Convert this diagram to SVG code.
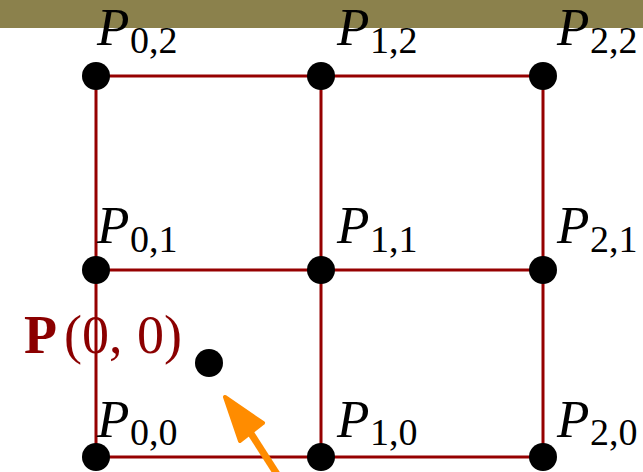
<svg xmlns="http://www.w3.org/2000/svg" width="643" height="472" viewBox="0 0 643 472">
<defs>
<style>
.grid{stroke:#960000;stroke-width:3;fill:none}
.dot{fill:#000}
.lbl{font-family:"Liberation Serif",serif;fill:#000}
.m{font-style:italic;font-size:53px}
.s{font-size:38px}
.red{font-family:"Liberation Serif",serif;fill:#8b0000;font-size:54px}
</style>
</defs>
<rect x="0" y="0" width="643" height="28" fill="#8b814c"/>
<g id="connectors">
<path class="grid" d="M96 76H543M96 270H543M96 457H543M96 76V457M321 76V457M543 76V457"/>
<path d="M282 482L250 432" stroke="#ff8c00" stroke-width="7" fill="none"/>
<polygon points="225,397 263,423 240,441" fill="#ff8c00" stroke="#ff8c00" stroke-width="4" stroke-linejoin="round"/>
</g>
<g id="P02"><circle class="dot" cx="96" cy="76" r="14"/><text class="lbl" x="97" y="45"><tspan class="m">P</tspan><tspan class="s" x="130" y="53">0,2</tspan></text></g>
<g id="P12"><circle class="dot" cx="321" cy="76" r="14"/><text class="lbl" x="337" y="45"><tspan class="m">P</tspan><tspan class="s" x="370" y="53">1,2</tspan></text></g>
<g id="P22"><circle class="dot" cx="543" cy="76" r="14"/><text class="lbl" x="557" y="45"><tspan class="m">P</tspan><tspan class="s" x="590" y="53">2,2</tspan></text></g>
<g id="P01"><circle class="dot" cx="96" cy="270" r="14"/><text class="lbl" x="97" y="243"><tspan class="m">P</tspan><tspan class="s" x="130" y="252">0,1</tspan></text></g>
<g id="P11"><circle class="dot" cx="321" cy="270" r="14"/><text class="lbl" x="337" y="243"><tspan class="m">P</tspan><tspan class="s" x="370" y="252">1,1</tspan></text></g>
<g id="P21"><circle class="dot" cx="543" cy="270" r="14"/><text class="lbl" x="557" y="243"><tspan class="m">P</tspan><tspan class="s" x="590" y="252">2,1</tspan></text></g>
<g id="P00"><circle class="dot" cx="96" cy="457" r="14"/><text class="lbl" x="97" y="437"><tspan class="m">P</tspan><tspan class="s" x="130" y="445">0,0</tspan></text></g>
<g id="P10"><circle class="dot" cx="321" cy="457" r="14"/><text class="lbl" x="337" y="437"><tspan class="m">P</tspan><tspan class="s" x="370" y="445">1,0</tspan></text></g>
<g id="P20"><circle class="dot" cx="543" cy="457" r="14"/><text class="lbl" x="557" y="437"><tspan class="m">P</tspan><tspan class="s" x="590" y="445">2,0</tspan></text></g>
<g id="Pfree"><circle class="dot" cx="209" cy="363" r="14"/><text class="red" y="353"><tspan x="24" font-weight="bold">P</tspan><tspan x="64">(0,</tspan><tspan x="137">0)</tspan></text></g>
</svg>
